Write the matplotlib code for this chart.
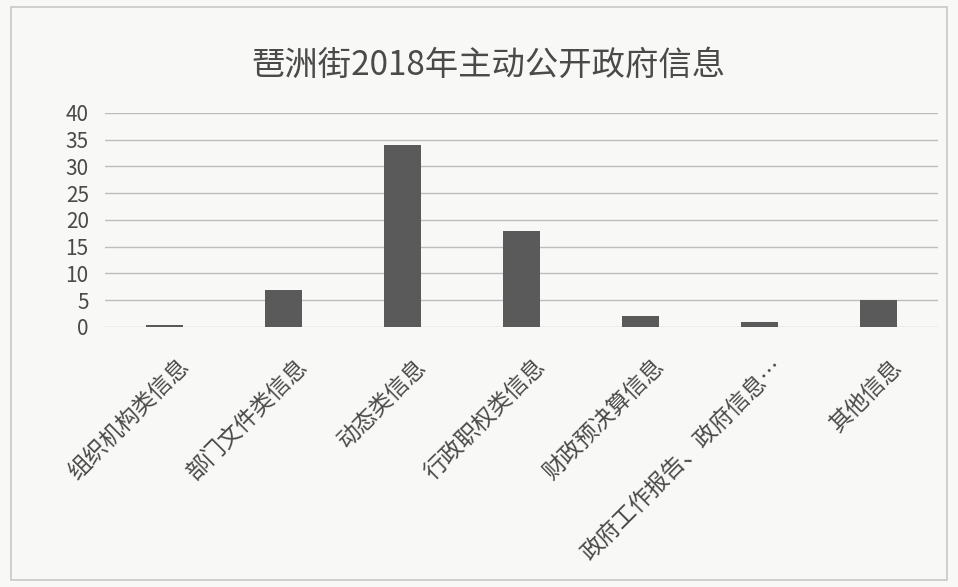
import matplotlib.pyplot as plt
from matplotlib.patches import Rectangle
from matplotlib.transforms import ScaledTranslation

plt.rcParams['font.family'] = ['Noto Sans CJK SC', 'DejaVu Sans']

title = '琶洲街2018年主动公开政府信息'
categories = [
    '组织机构类信息',
    '部门文件类信息',
    '动态类信息',
    '行政职权类信息',
    '财政预决算信息',
    '政府工作报告、政府信息…',
    '其他信息',
]
counts = [0.3, 7, 34, 18, 2, 1, 5]
yticks = [0, 5, 10, 15, 20, 25, 30, 35, 40]

text_color = '#4a4a4a'
bar_color = '#5a5a5a'

fig = plt.figure(figsize=(9.58, 5.87), dpi=100)
fig.patch.set_facecolor('#f8f8f6')
# chart frame, as in the scanned page
fig.patches.append(Rectangle((0.012, 0.012), 0.976, 0.976, transform=fig.transFigure,
                             fill=False, edgecolor='#c8c8c8', linewidth=1.2))

ax = fig.add_axes([0.11, 0.443, 0.869, 0.3645])
ax.set_facecolor('none')

positions = list(range(len(categories)))
ax.bar(positions, counts, width=0.31, color=bar_color, zorder=3)

ax.set_xlim(-0.5, len(categories) - 0.5)
ax.set_ylim(0, 40)
ax.set_yticks(yticks)
ax.yaxis.grid(True, color='#bdbdbd', linewidth=1.0)
ax.set_axisbelow(True)
for s in ax.spines.values():
    s.set_visible(False)

ax.tick_params(axis='y', length=0, pad=12, labelsize=15, labelcolor=text_color)
ax.tick_params(axis='x', length=0, pad=20)
ax.set_xticks(positions)
ax.set_xticklabels(categories, rotation=45, ha='right', rotation_mode='anchor',
                   fontsize=16.5, color=text_color)
shift = ScaledTranslation(0.12, 0, fig.dpi_scale_trans)
for lab in ax.get_xticklabels():
    lab.set_transform(lab.get_transform() + shift)

fig.text(0.51, 0.888, title, ha='center', va='center', fontsize=24, color=text_color)

fig.savefig('out.png', dpi=100, facecolor=fig.get_facecolor())
